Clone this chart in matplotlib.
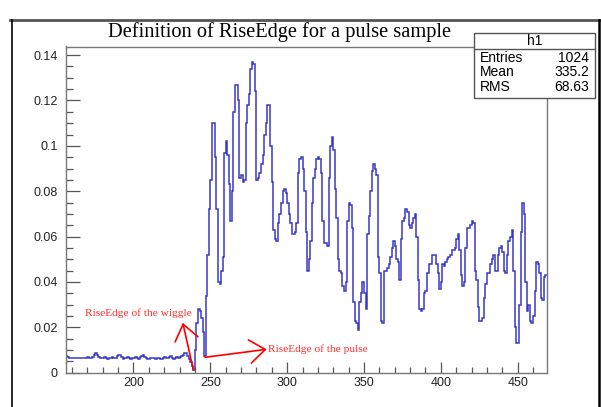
import numpy as np
import matplotlib
matplotlib.use("Agg")
import matplotlib.pyplot as plt
from matplotlib.lines import Line2D
from matplotlib.patches import Rectangle
from matplotlib.ticker import MultipleLocator

# histogram h1: one bin per sample, first visible bin starts at 156
bin_start = 156
counts = [
    # 156-237 baseline
    0.0074, 0.0070, 0.0066, 0.0064, 0.0065, 0.0063, 0.0064, 0.0066, 0.0065, 0.0063,
    0.0064, 0.0067, 0.0066, 0.0065, 0.0068, 0.0066, 0.0064, 0.0071, 0.0080, 0.0085,
    0.0076, 0.0068, 0.0066, 0.0064, 0.0065, 0.0068, 0.0064, 0.0060, 0.0063, 0.0067,
    0.0069, 0.0066, 0.0063, 0.0072, 0.0078, 0.0076, 0.0068, 0.0062, 0.0064, 0.0067,
    0.0070, 0.0066, 0.0062, 0.0065, 0.0067, 0.0069, 0.0064, 0.0062, 0.0068, 0.0072,
    0.0076, 0.0068, 0.0064, 0.0062, 0.0060, 0.0063, 0.0065, 0.0064, 0.0062, 0.0065,
    0.0063, 0.0060, 0.0062, 0.0065, 0.0068, 0.0066, 0.0064, 0.0070, 0.0072, 0.0066,
    0.0060, 0.0064, 0.0068, 0.0066, 0.0070, 0.0072, 0.0078, 0.0088, 0.0086, 0.0074,
    0.0062, 0.0048,
    # 238-249 wiggle and rise
    0.0030, 0.0012, 0.0100, 0.0220, 0.0280, 0.0270, 0.0240, 0.0180, 0.0072, 0.0340,
    0.0520, 0.0720,
    # 250-468 pulse
    0.085, 0.110, 0.110, 0.095, 0.072, 0.040, 0.039, 0.045, 0.051, 0.097,
    0.102, 0.096, 0.083, 0.067, 0.080, 0.115, 0.127, 0.127, 0.120, 0.086,
    0.087, 0.084, 0.085, 0.110, 0.118, 0.123, 0.134, 0.137, 0.136, 0.124,
    0.085, 0.086, 0.088, 0.092, 0.096, 0.105, 0.110, 0.118, 0.118, 0.100,
    0.084, 0.063, 0.059, 0.058, 0.066, 0.070, 0.075, 0.080, 0.081, 0.079,
    0.075, 0.070, 0.066, 0.061, 0.061, 0.062, 0.066, 0.088, 0.094, 0.095,
    0.090, 0.080, 0.062, 0.045, 0.050, 0.058, 0.075, 0.086, 0.090, 0.094,
    0.095, 0.094, 0.088, 0.067, 0.057, 0.057, 0.056, 0.086, 0.100, 0.104,
    0.098, 0.081, 0.068, 0.050, 0.045, 0.044, 0.038, 0.036, 0.040, 0.067,
    0.075, 0.074, 0.064, 0.031, 0.023, 0.022, 0.019, 0.031, 0.035, 0.040,
    0.035, 0.028, 0.061, 0.069, 0.080, 0.089, 0.092, 0.090, 0.087, 0.051,
    0.044, 0.023, 0.022, 0.045, 0.045, 0.046, 0.048, 0.051, 0.055, 0.058,
    0.056, 0.050, 0.049, 0.041, 0.059, 0.067, 0.068, 0.072, 0.071, 0.065,
    0.064, 0.066, 0.068, 0.070, 0.060, 0.041, 0.028, 0.027, 0.028, 0.035,
    0.036, 0.044, 0.048, 0.048, 0.052, 0.052, 0.052, 0.048, 0.044, 0.037,
    0.040, 0.048, 0.047, 0.049, 0.050, 0.051, 0.052, 0.054, 0.054, 0.055,
    0.059, 0.061, 0.054, 0.043, 0.038, 0.040, 0.055, 0.064, 0.064, 0.065,
    0.067, 0.066, 0.045, 0.041, 0.029, 0.023, 0.023, 0.024, 0.033, 0.039,
    0.044, 0.044, 0.048, 0.050, 0.052, 0.045, 0.045, 0.052, 0.055, 0.056,
    0.053, 0.045, 0.044, 0.052, 0.058, 0.060, 0.063, 0.045, 0.020, 0.013,
    0.013, 0.030, 0.062, 0.075, 0.070, 0.040, 0.027, 0.030, 0.023, 0.022,
    0.025, 0.036, 0.049, 0.048, 0.044, 0.033, 0.032, 0.042, 0.043,
]

stats_labels = ["Entries", "Mean", "RMS"]
stats_values = ["1024", "335.2", "68.63"]

wiggle_tail = (239.0, 0.0012)
wiggle_tip = (232.1, 0.0220)
pulse_tail = (246.6, 0.0068)
pulse_tip = (286.7, 0.0103)

W, H = 601, 407
fig = plt.figure(figsize=(W / 100, H / 100), dpi=100)
ax = fig.add_axes([66 / W, 1 - 372.7 / H, (547 - 66) / W, (372.7 - 46.5) / H])

edges = np.arange(bin_start, bin_start + len(counts) + 1)
ax.stairs(counts, edges, baseline=None, color="#3838c8", lw=1.1)

ax.set_xlim(156.1, 469.1)
ax.set_ylim(0, 0.1438)

ax.xaxis.set_major_locator(MultipleLocator(50))
ax.xaxis.set_minor_locator(MultipleLocator(10))
ax.yaxis.set_major_locator(MultipleLocator(0.02))
ax.yaxis.set_minor_locator(MultipleLocator(0.005))
ax.set_yticks([0, 0.02, 0.04, 0.06, 0.08, 0.10, 0.12, 0.14])
ax.set_yticklabels(["0", "0.02", "0.04", "0.06", "0.08", "0.1", "0.12", "0.14"])

for s in ax.spines.values():
    s.set_color("#777777")
    s.set_linewidth(1.0)
ax.tick_params(which="both", direction="in", color="#555555", width=0.9,
               labelsize=9, labelcolor="#222222", top=False, right=False)
ax.tick_params(axis="y", which="major", length=10, pad=6)
ax.tick_params(axis="y", which="minor", length=5)
ax.tick_params(axis="x", which="major", length=8, pad=3)
ax.tick_params(axis="x", which="minor", length=4)
for lab in ax.get_xticklabels() + ax.get_yticklabels():
    lab.set_family("Liberation Sans")

arrow_kw = dict(arrowstyle="->,head_length=0.8,head_width=0.6", color="red",
                lw=1.2, mutation_scale=14, shrinkA=0, shrinkB=0)
ax.annotate("", xy=wiggle_tip, xytext=wiggle_tail, arrowprops=arrow_kw)
ax.annotate("", xy=pulse_tip, xytext=pulse_tail, arrowprops=arrow_kw)
ax.text(168.5, 0.0264, "RiseEdge of the wiggle", color="#ff2a2a",
        family="Liberation Serif", fontsize=8.2, va="center", ha="left")
ax.text(287.8, 0.0103, "RiseEdge of the pulse", color="#ff2a2a",
        family="Liberation Serif", fontsize=8.2, va="center", ha="left")

fig.text(280 / W, 1 - 32 / H, "Definition of RiseEdge for a pulse sample",
         family="Liberation Serif", fontsize=14.7, ha="center", va="center")

# stats box
bx0, bx1, by0, by1, byh = 474, 595, 32.7, 98.3, 49.3
fig.patches.append(Rectangle((bx0 / W, 1 - by1 / H), (bx1 - bx0) / W, (by1 - by0) / H,
                             transform=fig.transFigure, facecolor="white",
                             edgecolor="#555555", lw=1.0, zorder=5))
fig.lines.append(Line2D([bx0 / W, bx1 / W], [1 - byh / H, 1 - byh / H],
                        transform=fig.transFigure, color="#555555", lw=1.0, zorder=6))
fig.text((bx0 + bx1) / 2 / W, 1 - 41 / H, "h1", family="Liberation Sans",
         fontsize=10, ha="center", va="center", zorder=7)
row_y = [57.5, 72, 86.7]
for lab, val, ry in zip(stats_labels, stats_values, row_y):
    fig.text(480 / W, 1 - ry / H, lab, family="Liberation Sans", fontsize=10,
             ha="left", va="center", zorder=7)
    fig.text(589 / W, 1 - ry / H, val, family="Liberation Sans", fontsize=10,
             ha="right", va="center", zorder=7)

# canvas window frame
fig.lines.append(Line2D([10 / W, 1], [1 - 19.5 / H, 1 - 19.5 / H], transform=fig.transFigure,
                        color="#555555", lw=2.0))
fig.lines.append(Line2D([12.3 / W, 12.3 / W], [0, 1 - 19.5 / H], transform=fig.transFigure,
                        color="black", lw=1.2))
fig.lines.append(Line2D([598.5 / W, 598.5 / W], [0, 1 - 19.5 / H], transform=fig.transFigure,
                        color="black", lw=1.8))

fig.savefig("out.png", dpi=100)
